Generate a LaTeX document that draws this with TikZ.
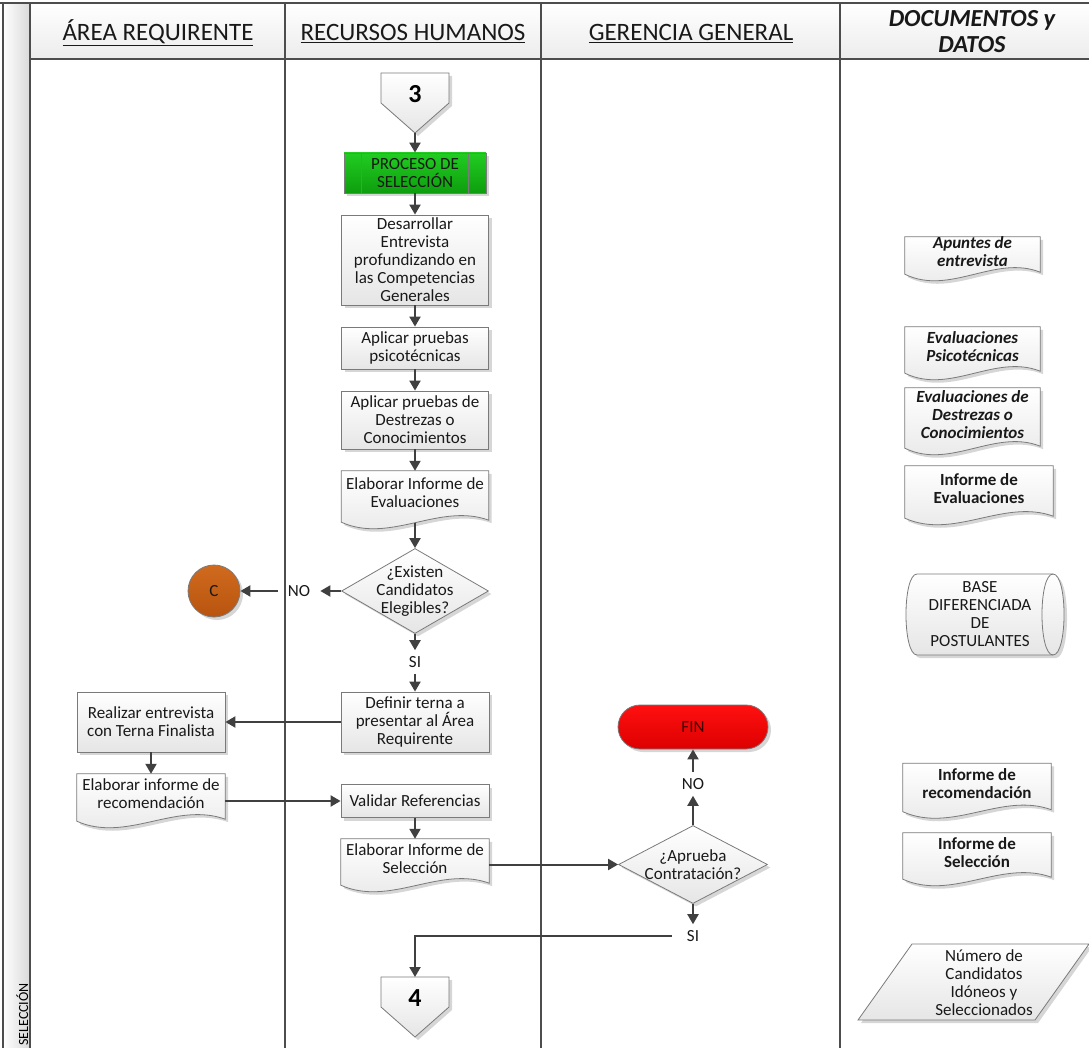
\documentclass[tikz,border=0pt]{standalone}
\usepackage{fontspec}
\setmainfont{Carlito}
\usetikzlibrary{arrows.meta,shapes.geometric,shadows,calc}

\definecolor{laneline}{HTML}{4D4D4D}
\definecolor{boxline}{HTML}{7A7A7A}
\definecolor{arrowcol}{HTML}{404040}
\definecolor{greentop}{HTML}{22CC22}
\definecolor{greenbot}{HTML}{0E9E0E}
\definecolor{redtop}{HTML}{FF1010}
\definecolor{redbot}{HTML}{DD0000}
\definecolor{orangetop}{HTML}{D06A1E}
\definecolor{orangebot}{HTML}{B8540F}

\pgfdeclarelayer{bg}
\pgfsetlayers{bg,main}

% document symbol: flat top, wavy bottom, drawn behind the text node #1
\newcommand\docoutline[1]{%
  \begin{pgfonlayer}{bg}
    \path[docfill] (#1.north west) -- (#1.north east) -- ($(#1.south east)+(0,5)$)
      .. controls ($(#1.south east)!0.333!(#1.south west)+(0,-13)$)
             and ($(#1.south east)!0.667!(#1.south west)+(0,29)$)
      .. ($(#1.south west)+(0,7)$) -- cycle;
  \end{pgfonlayer}
  \coordinate (#1-b) at ($(#1.south)+(0,7.5)$);}

% off-page connector: pentagon pointing down around the number node #1
\newcommand\offpageoutline[1]{%
  \begin{pgfonlayer}{bg}
    \path[docfill] ($(#1)+(-34,-21)$) -- ($(#1)+(34,-21)$) -- ($(#1)+(34,9)$)
      -- ($(#1)+(0,39)$) -- ($(#1)+(-34,9)$) -- cycle;
  \end{pgfonlayer}}

\begin{document}
\begin{tikzpicture}[x=1pt,y=-1pt,
  body/.style={font=\fontsize{17}{18}\selectfont, text=black!90, align=center},
  shadowed/.style={drop shadow={shadow xshift=3pt,shadow yshift=-3pt,fill=black,opacity=0.16}},
  task/.style={body, rectangle, draw=boxline, line width=0.8pt, top color=white,
    bottom color=gray!20, shadowed, inner sep=1pt},
  docnode/.style={body, rectangle, inner xsep=2pt, inner ysep=0pt},
  docfill/.style={draw=boxline, line width=0.8pt, top color=white, bottom color=gray!20, shadowed},
  decision/.style={body, diamond, aspect=1.73, draw=boxline, line width=0.8pt,
    top color=white, bottom color=gray!20, shadowed, inner sep=-6pt},
  lbl/.style={body, inner xsep=10pt, inner ysep=6pt},
  arr/.style={draw=arrowcol, line width=2pt, -{Triangle[length=10pt,width=11pt]}},
  lane/.style={draw=laneline, line width=2pt},
  hdr/.style={font=\fontsize{25}{26}\selectfont, text=black!90, align=center},
  bi/.style={font=\fontsize{17}{18}\selectfont\bfseries\itshape},
  bo/.style={font=\fontsize{17}{18}\selectfont\bfseries},
  num/.style={font=\fontsize{26}{28}\selectfont\bfseries, text=black, inner sep=0pt}]

\useasboundingbox (0,0) rectangle (1089,1048);

% ---------- swimlane frame ----------
\begin{pgfonlayer}{bg}
  \fill[left color=white, right color=gray!30] (3,3) rectangle (30,1048);
  \fill[top color=white, bottom color=gray!15] (30,3) rectangle (1089,59);
  \draw[lane] (0,3) -- (1089,3);
  \draw[lane] (3,3) -- (3,1048);
  \draw[lane] (30,3) -- (30,1048);
  \draw[lane] (30,59) -- (1089,59);
  \draw[lane] (285,3) -- (285,1048);
  \draw[lane] (541,3) -- (541,1048);
  \draw[lane] (840,3) -- (840,1048);
\end{pgfonlayer}

\node[font=\fontsize{14}{16}\selectfont, rotate=90, anchor=base east, inner sep=0pt] (lanename) at (28,983) {SELECCIÓN};

\node[hdr, anchor=base] (hA) at (158,40.5) {\underline{ÁREA REQUIRENTE}};
\node[hdr, anchor=base] (hR) at (413,40.5) {\underline{RECURSOS HUMANOS}};
\node[hdr, anchor=base] (hG) at (691,40.5) {\underline{GERENCIA GENERAL}};
\node[hdr, font=\fontsize{24.5}{26}\selectfont\bfseries\itshape] (hD) at (972,31.5) {DOCUMENTOS y\\DATOS};

% ---------- main flow (Recursos Humanos) ----------
\node[num] (c3) at (415,94) {3};
\offpageoutline{c3}
\coordinate (c3tip) at ($(c3)+(0,39)$);

\node[task, top color=greentop, bottom color=greenbot, minimum width=142, minimum height=40] (proc) at (415,173) {PROCESO DE\\SELECCIÓN};
\draw[boxline, line width=0.8pt] ($(proc.north west)+(18,0)$) -- ($(proc.south west)+(18,0)$);
\draw[boxline, line width=0.8pt] ($(proc.north east)+(-18,0)$) -- ($(proc.south east)+(-18,0)$);

\node[task, minimum width=147, minimum height=90] (des) at (415,260) {Desarrollar\\Entrevista\\profundizando en\\las Competencias\\Generales};
\node[task, minimum width=147, minimum height=42] (psi) at (415,348) {Aplicar pruebas\\psicotécnicas};
\node[task, minimum width=147, minimum height=58] (dest) at (415,420) {Aplicar pruebas de\\Destrezas o\\Conocimientos};
\node[docnode, minimum width=147, minimum height=44] (infev) at (415,493) {Elaborar Informe de\\Evaluaciones};
\docoutline{infev}

\node[decision, minimum width=147, minimum height=85] (dia1) at (415,591) {¿Existen\\Candidatos\\Elegibles?};
\node[lbl] (no1) at (299,591) {NO};
\node[circle, draw=boxline, line width=0.8pt, top color=orangetop, bottom color=orangebot,
  shadowed, minimum size=52, body] (cC) at (214,591) {C};
\node[lbl] (si1) at (415,662) {SI};

\node[task, minimum width=148, minimum height=60] (def) at (415,722) {Definir terna a\\presentar al Área\\Requirente};
\node[task, minimum width=148, minimum height=60] (real) at (151,722) {Realizar entrevista\\con Terna Finalista};
\node[docnode, minimum width=148, minimum height=40] (rec) at (151,794) {Elaborar informe de\\recomendación};
\docoutline{rec}
\node[task, minimum width=148, minimum height=33] (val) at (415,801) {Validar Referencias};
\node[docnode, minimum width=148, minimum height=39] (sel) at (415,858.5) {Elaborar Informe de\\Selección};
\docoutline{sel}

% ---------- Gerencia General ----------
\node[decision, minimum width=149, minimum height=78] (dia2) at (693,864.5) {¿Aprueba\\Contratación?};
\node[lbl] (no2) at (693,784) {NO};
\node[body, rectangle, rounded corners=22pt, draw=boxline, line width=0.8pt,
  top color=redtop, bottom color=redbot, shadowed, minimum width=150, minimum height=44,
  text=black!75!red] (fin) at (693,727) {FIN};
\node[lbl, inner xsep=15pt] (si2) at (693,936) {SI};

\node[num] (c4) at (415,998) {4};
\offpageoutline{c4}
\coordinate (c4top) at ($(c4)+(0,-21)$);

% ---------- documents and data ----------
\node[docnode, bi, minimum width=135, minimum height=30] (dap) at (972.5,252) {Apuntes de\\entrevista};
\docoutline{dap}
\node[docnode, bi, minimum width=135, minimum height=39] (dpsi) at (972.5,346.5) {Evaluaciones\\Psicotécnicas};
\docoutline{dpsi}
\node[docnode, bi, minimum width=135, minimum height=53] (ddes) at (972.5,414.5) {Evaluaciones de\\Destrezas o\\Conocimientos};
\docoutline{ddes}
\node[docnode, bo, minimum width=148, minimum height=45] (dinf) at (979,488.5) {Informe de\\Evaluaciones};
\docoutline{dinf}

\begin{pgfonlayer}{bg}
  \path[docfill] (917,574) -- (1053,574) .. controls (1067.7,574) and (1067.7,655) .. (1053,655)
    -- (917,655) .. controls (902.3,655) and (902.3,574) .. (917,574) -- cycle;
  \draw[boxline, line width=0.8pt] (1053,574) .. controls (1038.3,574) and (1038.3,655) .. (1053,655);
\end{pgfonlayer}
\node[body] (base) at (980,614.5) {BASE\\DIFERENCIADA\\DE\\POSTULANTES};

\node[docnode, bo, minimum width=148, minimum height=41] (drec) at (977,784) {Informe de\\recomendación};
\docoutline{drec}
\node[docnode, bo, minimum width=148, minimum height=39] (dsel) at (977,852.5) {Informe de\\Selección};
\docoutline{dsel}

\begin{pgfonlayer}{bg}
  \path[docfill] (912,944) -- (1089,944) -- (1035,1020) -- (858,1020) -- cycle;
\end{pgfonlayer}
\node[body] (datos) at (984,982.5) {Número de\\Candidatos\\Idóneos y\\Seleccionados};

% ---------- connectors ----------
\draw[arr] (c3tip) -- (proc);
\draw[arr] (proc) -- (des);
\draw[arr] (des) -- (psi);
\draw[arr] (psi) -- (dest);
\draw[arr] (dest) -- (infev);
\draw[arr] (infev-b) -- (dia1);
\draw[arr] (dia1) -- (no1);
\draw[arr] (no1) -- (cC);
\draw[arr] (dia1) -- (si1);
\draw[arr] (si1) -- (def);
\draw[arr] (def) -- (real);
\draw[arr] (real) -- (rec);
\draw[arr] (rec.east |- val.west) -- (val.west);
\draw[arr] (val) -- (sel);
\draw[arr] (sel.east |- dia2.west) -- (dia2.west);
\draw[arr] (dia2) -- (no2);
\draw[arr] (no2) -- (fin);
\draw[arr] (dia2) -- (si2);
\draw[arr] (si2.west) -| (c4top);

\end{tikzpicture}
\end{document}
